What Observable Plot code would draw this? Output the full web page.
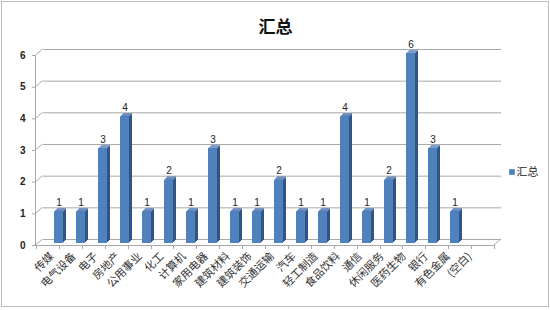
<!DOCTYPE html>
<html>
<head>
<meta charset="utf-8">
<script src="https://cdn.jsdelivr.net/npm/d3@7"></script>
<script src="https://cdn.jsdelivr.net/npm/@observablehq/plot@0.6"></script>
<style>
  html, body { margin: 0; padding: 0; background: #fff; }
  #wrap { position: relative; width: 550px; height: 310px; }
  #border { position: absolute; left: 1px; top: 1px; width: 546px; height: 304px; border: 1px solid #bdbdbd; pointer-events: none; }
</style>
</head>
<body>
<div id="wrap"><div id="chart"></div><div id="border"></div></div>
<script>
const categories = ["传媒","电气设备","电子","房地产","公用事业","化工","计算机","家用电器","建筑材料","建筑装饰","交通运输","汽车","轻工制造","食品饮料","通信","休闲服务","医药生物","银行","有色金属","(空白)"];
const values = [1,1,3,4,1,2,1,3,1,1,2,1,1,4,1,2,6,3,1,null];
const yTicks = [0,1,2,3,4,5,6];
const seriesName = "汇总";
const title = "汇总";

const data = categories.map((c, i) => ({category: c, value: values[i]})).filter(d => d.value != null);

const FACE = "#4F81BD", SIDE = "#2F5486", TOP = "#7C9FD0", GRID = "#a8a8a8";
const font = "'Noto Sans CJK SC', 'Liberation Sans', sans-serif";

function frame3d(index, scales, values, dims) {
  const y = scales.y;
  const L = dims.marginLeft, R = dims.width - dims.marginRight;
  const n = categories.length;
  const g = d3.create("svg:g").attr("stroke", GRID).attr("fill", "none");
  g.append("line").attr("x1", L - 0.5).attr("x2", L - 0.5).attr("y1", y(0)).attr("y2", y(yTicks[yTicks.length - 1]));
  for (const t of yTicks) {
    g.append("line").attr("x1", L - 0.5).attr("y1", y(t)).attr("x2", L + 6.5).attr("y2", y(t) - 6);
  }
  g.append("line").attr("x1", R).attr("y1", y(0)).attr("x2", R + 7).attr("y2", y(0) - 6);
  for (let i = 0; i <= n; i++) {
    const xx = Math.round(L + i * (R - L) / n) + 0.5;
    g.append("line").attr("x1", xx).attr("x2", xx).attr("y1", y(0)).attr("y2", y(0) + 4);
  }
  return g.node();
}

const extrude = [1, 2, 3];

const plot = Plot.plot({
  width: 550,
  height: 310,
  marginLeft: 36,
  marginRight: 56,
  marginTop: 55,
  marginBottom: 65,
  style: {fontFamily: font, background: "transparent"},
  x: {type: "band", domain: categories, paddingInner: 0.6, paddingOuter: 0.3},
  y: {domain: [0, 6]},
  marks: [
    Plot.ruleY(yTicks, {dx: 7, dy: -6, stroke: GRID}),
    Plot.ruleY([0], {stroke: GRID}),
    frame3d,
    Plot.axisY(yTicks, {tickSize: 4, tickPadding: 7, stroke: GRID, fill: "#222", fontSize: 10, fontWeight: "bold", fontFamily: "'Liberation Sans', Arial, sans-serif", label: null}),
    Plot.axisX({tickRotate: -45, tickSize: 0, tickPadding: 9, dx: -5, fontSize: 11, fill: "#333", label: null}),
    ...extrude.map(k => Plot.barY(data, {x: "category", y: "value", fill: SIDE, dx: 2 + k, dy: -2 - k})),
    ...extrude.map(k => Plot.tickY(data, {x: "category", y: "value", stroke: TOP, dx: 2 + k, dy: -2 - k})),
    Plot.barY(data, {x: "category", y: "value", fill: FACE, dx: 2, dy: -2}),
    Plot.text(data, {x: "category", y: "value", text: d => String(d.value), dx: 2, dy: -11, fontSize: 10, fill: "#222", fontFamily: "'Liberation Sans', Arial, sans-serif"}),
    Plot.text([title], {frameAnchor: "top", dx: 10, dy: -35, fontSize: 17, fontWeight: "bold", fill: "#111"}),
    Plot.dot([seriesName], {frameAnchor: "right", dx: 17.5, dy: 21.5, symbol: "square", r: 3.2, fill: FACE, stroke: "none"}),
    Plot.text([seriesName], {frameAnchor: "right", dx: 22, dy: 22, textAnchor: "start", fontSize: 11, fill: "#222"})
  ]
});
document.getElementById("chart").appendChild(plot);
</script>
</body>
</html>
